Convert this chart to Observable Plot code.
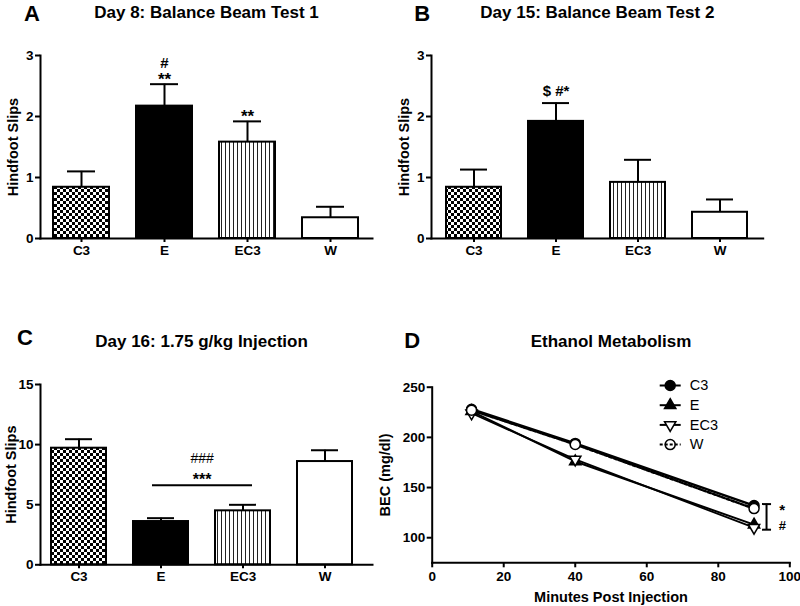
<!DOCTYPE html>
<html>
<head>
<meta charset="utf-8">
<script src="https://cdn.jsdelivr.net/npm/d3@7"></script>
<script src="https://cdn.jsdelivr.net/npm/@observablehq/plot@0.6"></script>
<style>
  body { margin: 0; background: #fff; }
  #chart { position: relative; width: 800px; height: 606px; overflow: hidden; background: #fff; }
  #chart svg.panel { position: absolute; overflow: visible; }
</style>
</head>
<body>
<svg width="0" height="0" style="position:absolute">
  <defs>
    <pattern id="checker" width="6" height="6" patternUnits="userSpaceOnUse">
      <rect width="6" height="6" fill="white"/>
      <rect width="3" height="3" fill="black"/>
      <rect x="3" y="3" width="3" height="3" fill="black"/>
    </pattern>
    <pattern id="vstripe" width="4" height="4" patternUnits="userSpaceOnUse">
      <rect width="4" height="4" fill="white"/>
      <rect x="1" width="1" height="4" fill="#222"/>
    </pattern>
  </defs>
</svg>
<div id="chart"></div>
<script>
// ---------- data ----------
const groups = ["C3", "E", "EC3", "W"];
const groupFills = ["url(#checker)", "black", "url(#vstripe)", "white"];

// Panel A: Day 8 balance beam test 1
const test1Mean = [0.84, 2.17, 1.58, 0.34];
const test1Sem  = [0.26, 0.36, 0.34, 0.18];
const test1StarLabels = [{group: "E", label: "**"}, {group: "EC3", label: "**"}];
const test1HashLabels = [{group: "E", label: "#"}];

// Panel B: Day 15 balance beam test 2
const test2Mean = [0.84, 1.92, 0.92, 0.43];
const test2Sem  = [0.29, 0.30, 0.37, 0.21];
const test2Labels = [{group: "E", label: "$ #*"}];

// Panel C: Day 16 1.75 g/kg injection
const injMean = [9.70, 3.60, 4.49, 8.59];
const injSem  = [0.75, 0.28, 0.50, 0.94];
const injSigLine = [{from: "E", to: "EC3", value: 6.62}];
const injStarLabel = ["***"];
const injHashLabel = ["###"];

// Panel D: ethanol metabolism
const minutes = [11, 40, 90];
const becC3  = [228, 194, 132];
const becE   = [226, 176, 113];
const becEC3 = [224, 178, 110];
const becW   = [227, 193, 129];
const seriesNames = ["C3", "E", "EC3", "W"];
const sigD = {low: 108, high: 133.5};

// tick labels
const slipTicks = [0, 1, 2, 3];
const injTicks = [0, 5, 10, 15];
const becTicks = [100, 150, 200, 250];
const minuteTicks = [0, 20, 40, 60, 80, 100];

// ---------- helpers ----------
const fontFam = "'Liberation Sans', Arial, Helvetica, sans-serif";
const chart = document.getElementById("chart");
const fmt = d => String(d);

function place(svg, left, top) {
  svg.classList.add("panel");
  svg.style.left = left + "px";
  svg.style.top = top + "px";
  chart.appendChild(svg);
}

function barPanel(cfg) {
  const rows = groups.map((g, i) => ({group: g, mean: cfg.mean[i], top: cfg.mean[i] + cfg.sem[i], fill: groupFills[i]}));
  return Plot.plot({
    width: 400, height: 303,
    marginLeft: cfg.ml, marginRight: cfg.mr, marginTop: cfg.mt, marginBottom: cfg.mb,
    style: {fontFamily: fontFam, fontSize: "13px", fontWeight: "bold", background: "transparent", overflow: "visible", color: "black"},
    x: {domain: groups, range: cfg.xRange, paddingInner: 0.325, paddingOuter: 0.1625, axis: null},
    y: {domain: cfg.yDomain, axis: null},
    color: {type: "identity"},
    marks: [
      Plot.ruleX(rows, {x: "group", y1: "mean", y2: "top", stroke: "black", strokeWidth: 2}),
      Plot.barY(rows, {x: "group", y: "mean", fill: "fill", stroke: "black", strokeWidth: 2}),
      Plot.tickY(rows, {x: "group", y: "top", inset: 14, stroke: "black", strokeWidth: 2}),
      Plot.frame({anchor: "left", strokeWidth: 2}),
      Plot.frame({anchor: "bottom", strokeWidth: 2}),
      Plot.axisY({ticks: cfg.yTicks, tickFormat: fmt, tickSize: 5, tickPadding: 2, strokeWidth: 2, label: null, fontSize: 13.5}),
      Plot.axisX({tickSize: 4, tickPadding: 3, strokeWidth: 2, label: null, fontSize: 13.5}),
      Plot.text(["Hindfoot Slips"], {text: d => d, frameAnchor: "left", textAnchor: "middle", lineAnchor: "middle", rotate: -90, dx: cfg.yLabelDx, fontSize: 14.5}),
      Plot.text([cfg.title], {text: d => d, frameAnchor: "top", textAnchor: "middle", lineAnchor: "middle", dx: cfg.titleDx, dy: cfg.titleDy, fontSize: 17}),
      Plot.text([cfg.letter], {text: d => d, frameAnchor: "top-left", textAnchor: "middle", lineAnchor: "middle", dx: cfg.letterDx, dy: cfg.letterDy, fontSize: 22}),
      ...cfg.extra(rows)
    ]
  });
}

// ---------- Panel A ----------
place(barPanel({
  mean: test1Mean, sem: test1Sem, yDomain: [0, 3], yTicks: slipTicks,
  ml: 40, mr: 28, mt: 55, mb: 65, xRange: [40, 372],
  yLabelDx: -27.5, title: "Day 8: Balance Beam Test 1", titleDx: 0, titleDy: -43,
  letter: "A", letterDx: -8.5, letterDy: -42,
  extra: rows => {
    const top = g => rows.find(r => r.group === g).top;
    return [
      Plot.text(test1StarLabels, {x: "group", y: d => top(d.group), text: "label", dy: -4.5, fontSize: 17}),
      Plot.text(test1HashLabels, {x: "group", y: d => top(d.group), text: "label", dy: -20.5, fontSize: 15})
    ];
  }
}), 0, 0);

// ---------- Panel B ----------
place(barPanel({
  mean: test2Mean, sem: test2Sem, yDomain: [0, 3], yTicks: slipTicks,
  ml: 31, mr: 37.3, mt: 55, mb: 65, xRange: [31, 362.7],
  yLabelDx: -27.5, title: "Day 15: Balance Beam Test 2", titleDx: 0, titleDy: -43,
  letter: "B", letterDx: -9.3, letterDy: -42,
  extra: rows => {
    const top = g => rows.find(r => r.group === g).top;
    return [
      Plot.text(test2Labels, {x: "group", y: d => top(d.group), text: "label", dy: -11.6, fontSize: 15})
    ];
  }
}), 400, 0);

// ---------- Panel C ----------
place(barPanel({
  mean: injMean, sem: injSem, yDomain: [0, 15], yTicks: injTicks,
  ml: 40, mr: 28, mt: 81, mb: 41.7, xRange: [37.6, 366.3],
  yLabelDx: -29, title: "Day 16: 1.75 g/kg Injection", titleDx: -5, titleDy: -43.3,
  letter: "C", letterDx: -15.5, letterDy: -46.7,
  extra: rows => [
    Plot.ruleY(injSigLine, {x1: "from", x2: "to", y: "value", insetLeft: 19, insetRight: 18, stroke: "black", strokeWidth: 2}),
    Plot.text(injStarLabel, {x: () => "E", y: () => injSigLine[0].value, text: d => d, dx: 41.1, dy: -5, fontSize: 16}),
    Plot.text(injHashLabel, {x: () => "E", y: () => injSigLine[0].value, text: d => d, dx: 41.1, dy: -27, fontSize: 14, fontWeight: "normal"})
  ]
}), 0, 303);

// ---------- Panel D ----------
const sqrt3 = Math.sqrt(3);
const triDown = {
  draw(ctx, size) {
    const y = -Math.sqrt(size / (sqrt3 * 3));
    ctx.moveTo(0, -y * 2);
    ctx.lineTo(-sqrt3 * y, y);
    ctx.lineTo(sqrt3 * y, y);
    ctx.closePath();
  }
};
const legendLine = {draw(ctx) { ctx.moveTo(-10.5, 0); ctx.lineTo(10.5, 0); }};
const capLine = {draw(ctx) { ctx.moveTo(-4.5, 0); ctx.lineTo(4.5, 0); }};

const seriesVals = [becC3, becE, becEC3, becW];
const seriesStyle = [
  {symbol: "circle", fill: "black", r: 5, strokeWidth: 2.5, dash: null},
  {symbol: "triangle", fill: "black", r: 4.2, strokeWidth: 2, dash: null},
  {symbol: triDown, fill: "white", r: 4.2, strokeWidth: 1.8, dash: null},
  {symbol: "circle", fill: "white", r: 5, strokeWidth: 2.5, dash: "3,2"}
];
const seriesRows = seriesVals.map(vals => minutes.map((m, i) => ({m, v: vals[i]})));

const dMarks = [
  Plot.frame({anchor: "left", strokeWidth: 2}),
  Plot.frame({anchor: "bottom", strokeWidth: 2}),
  Plot.axisY({ticks: becTicks, tickFormat: fmt, tickSize: 5, tickPadding: 2, strokeWidth: 2, label: null, fontSize: 13.5}),
  Plot.axisX({ticks: minuteTicks, tickFormat: fmt, tickSize: 5, tickPadding: 4, strokeWidth: 2, label: null, fontSize: 13.5}),
  Plot.text(["BEC (mg/dl)"], {text: d => d, frameAnchor: "left", textAnchor: "middle", lineAnchor: "middle", rotate: -90, dx: -46.7, fontSize: 14.5}),
  Plot.text(["Minutes Post Injection"], {text: d => d, frameAnchor: "bottom", textAnchor: "middle", lineAnchor: "middle", dy: 34.7, fontSize: 14.5}),
  Plot.text(["Ethanol Metabolism"], {text: d => d, frameAnchor: "top", textAnchor: "middle", lineAnchor: "middle", dy: -46, fontSize: 17}),
  Plot.text(["D"], {text: d => d, frameAnchor: "top-left", textAnchor: "middle", lineAnchor: "middle", dx: -20, dy: -46.7, fontSize: 22})
];
seriesRows.forEach((rows, k) => {
  const s = seriesStyle[k];
  dMarks.push(Plot.line(rows, {x: "m", y: "v", stroke: "black", strokeWidth: s.strokeWidth, strokeDasharray: s.dash}));
});
seriesRows.forEach((rows, k) => {
  const s = seriesStyle[k];
  dMarks.push(Plot.dot(rows, {x: "m", y: "v", symbol: () => s.symbol, r: s.r, fill: s.fill, stroke: "black", strokeWidth: 1.5}));
});
// significance bracket at 90 min
dMarks.push(
  Plot.ruleX([sigD], {x: () => minutes[2], y1: "low", y2: "high", dx: 12.5, stroke: "black", strokeWidth: 2}),
  Plot.dot([sigD.low, sigD.high], {x: () => minutes[2], y: d => d, dx: 12.5, symbol: () => capLine, stroke: "black", strokeWidth: 2}),
  Plot.text(["*"], {text: d => d, x: () => minutes[2], y: () => sigD.high, dx: 28.2, dy: 6.5, fontSize: 15}),
  Plot.text(["#"], {text: d => d, x: () => minutes[2], y: () => sigD.low, dx: 28.2, dy: -3.5, fontSize: 13})
);
// legend
seriesNames.forEach((name, k) => {
  const s = seriesStyle[k];
  const dy = -1.7 + k * 19.7;
  dMarks.push(
    Plot.dot([name], {frameAnchor: "top-left", dx: 238, dy, symbol: () => legendLine, stroke: "black", strokeWidth: 2, r: 5, strokeDasharray: s.dash}),
    Plot.dot([name], {frameAnchor: "top-left", dx: 238, dy, symbol: () => s.symbol, r: s.r, fill: k === 3 ? "none" : s.fill, stroke: "black", strokeWidth: 1.5}),
    Plot.text([name], {text: d => d, frameAnchor: "top-left", textAnchor: "start", lineAnchor: "middle", dx: 257.6, dy, fontSize: 14.5, fontWeight: "normal"})
  );
});

place(Plot.plot({
  width: 400, height: 303,
  marginLeft: 31.7, marginRight: 10.7, marginTop: 83.7, marginBottom: 43.7,
  style: {fontFamily: fontFam, fontSize: "13px", fontWeight: "bold", background: "transparent", overflow: "visible", color: "black"},
  x: {domain: [0, 100], axis: null},
  y: {domain: [75, 250], axis: null},
  symbol: {type: "identity"},
  marks: dMarks
}), 400, 303);
</script>
</body>
</html>
